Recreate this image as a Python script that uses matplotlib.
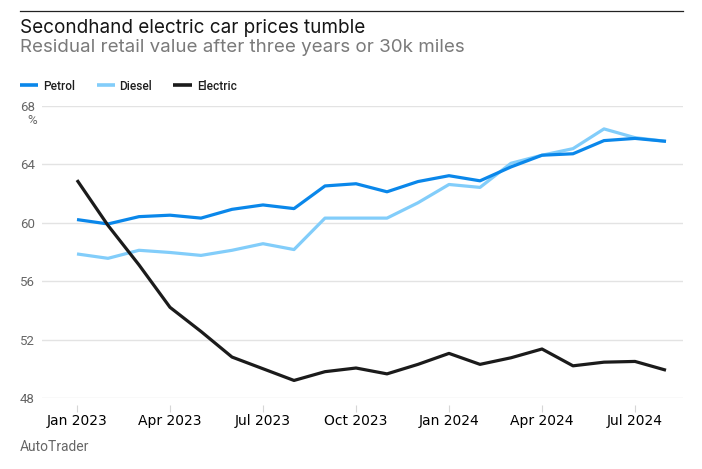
import numpy as np
import matplotlib
matplotlib.use("Agg")
import matplotlib.pyplot as plt
from matplotlib.lines import Line2D

# ---- data ----
months = ["Jan 2023", "Feb 2023", "Mar 2023", "Apr 2023", "May 2023", "Jun 2023",
          "Jul 2023", "Aug 2023", "Sep 2023", "Oct 2023", "Nov 2023", "Dec 2023",
          "Jan 2024", "Feb 2024", "Mar 2024", "Apr 2024", "May 2024", "Jun 2024",
          "Jul 2024", "Aug 2024"]
petrol = [60.2, 59.9, 60.4, 60.5, 60.3, 60.9, 61.2, 60.95, 62.5, 62.65, 62.1, 62.8,
          63.2, 62.85, 63.8, 64.6, 64.7, 65.6, 65.75, 65.55]
diesel = [57.85, 57.55, 58.1, 57.95, 57.75, 58.1, 58.55, 58.15, 60.3, 60.3, 60.3, 61.35,
          62.6, 62.4, 64.05, 64.6, 65.05, 66.4, 65.8, 65.55]
electric = [62.9, 59.8, 57.1, 54.2, 52.55, 50.8, 50.0, 49.2, 49.8, 50.05, 49.65, 50.3,
            51.05, 50.3, 50.75, 51.35, 50.2, 50.45, 50.5, 49.9]
yticks = [48, 52, 56, 60, 64, 68]
xtick_idx = [0, 3, 6, 9, 12, 15, 18]

PETROL = "#0a87ea"; DIESEL = "#82cdfa"; ELEC = "#1b1b1b"
GRID = "#e3e3e3"; TICK_TXT = "#666666"
FONT = ["Roboto", "DejaVu Sans"]
HEAD = ["Inter", "Roboto", "DejaVu Sans"]

W, H = 702, 469
fig = plt.figure(figsize=(W / 100, H / 100), dpi=100)
fig.patch.set_facecolor("white")

def fx(px):
    return px / W

def fy(py):
    return 1 - py / H

ax = fig.add_axes([fx(42), fy(398), fx(683) - fx(42), fy(105.5) - fy(398)])
x = np.arange(len(months))
ax.plot(x, diesel, color=DIESEL, lw=2.3, solid_capstyle="butt", zorder=3)
ax.plot(x, petrol, color=PETROL, lw=2.3, solid_capstyle="butt", zorder=4)
ax.plot(x, electric, color=ELEC, lw=2.3, solid_capstyle="butt", zorder=5)

ax.set_ylim(48, 68)
ax.set_xlim(-35 / 31, (683 - 77) / 31)
ax.set_yticks(yticks)
ax.set_yticklabels([str(t) for t in yticks], family=FONT, fontsize=9.5, color=TICK_TXT)
ax.set_xticks(xtick_idx)
ax.set_xticklabels([months[i] for i in xtick_idx], family=FONT, fontsize=9,
                   color=TICK_TXT)
ax.tick_params(axis="y", length=0, pad=5)
ax.tick_params(axis="x", length=4.8, width=0.8, color="#d6d6d6", pad=2)
ax.grid(axis="y", color=GRID, lw=1.0)
ax.set_axisbelow(True)
for side in ["top", "right", "left"]:
    ax.spines[side].set_visible(False)
ax.spines["bottom"].set_position(("outward", 5))
ax.spines["bottom"].set_visible(False)

fig.text(fx(37), fy(121), "%", ha="right", va="center", family=FONT,
         fontsize=9.5, color=TICK_TXT)

# top rule, title, subtitle
fig.add_artist(Line2D([fx(20), fx(683)], [fy(11), fy(11)], color="#222222", lw=0.9))
fig.text(fx(19.5), fy(33), "Secondhand electric car prices tumble", ha="left",
         va="baseline", family=HEAD, fontsize=13.6, color="#151515")
fig.text(fx(19.5), fy(52.5), "Residual retail value after three years or 30k miles",
         ha="left", va="baseline", family=HEAD, fontsize=13.5, color="#7a7a7a")

# legend drawn by hand
for x0, x1, tx, lab, col in [(20, 38, 43, "Petrol", PETROL),
                             (97, 115, 119, "Diesel", DIESEL),
                             (173, 192, 197, "Electric", ELEC)]:
    fig.add_artist(Line2D([fx(x0), fx(x1)], [fy(85), fy(85)], color=col, lw=2.6,
                          solid_capstyle="butt"))
    fig.text(fx(tx), fy(89.5), lab, ha="left", va="baseline", family=FONT,
             fontsize=8.6, fontweight="medium", color="#1e1e1e")

fig.text(fx(20), fy(451), "AutoTrader", ha="left", va="baseline", family=FONT,
         fontsize=10, color=TICK_TXT)

fig.savefig("out.png", dpi=100)
